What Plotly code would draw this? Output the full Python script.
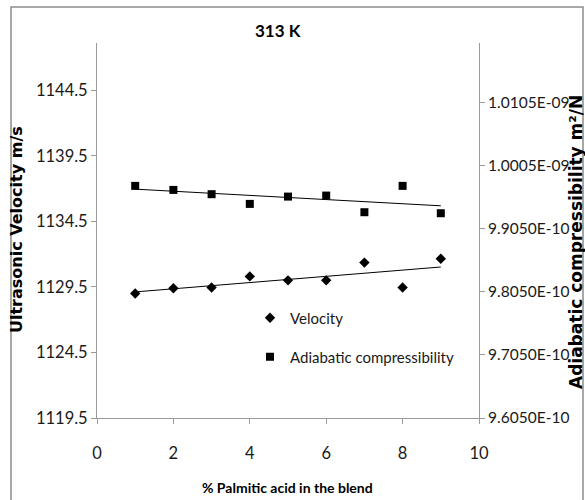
import numpy as np
import plotly.graph_objects as go

# % palmitic acid in the blend
palmitic_pct = [1, 2, 3, 4, 5, 6, 7, 8, 9]
# ultrasonic velocity, m/s (left axis)
velocity = [1129.0, 1129.4, 1129.45, 1130.3, 1130.0, 1130.0, 1131.35, 1129.45, 1131.65]
# adiabatic compressibility, m^2/N (right axis)
compressibility = [9.9733e-10, 9.9669e-10, 9.9601e-10, 9.9447e-10, 9.9563e-10,
                   9.9579e-10, 9.9315e-10, 9.9733e-10, 9.9299e-10]

left_ticks = [1119.5, 1124.5, 1129.5, 1134.5, 1139.5, 1144.5]
right_ticks = [9.605e-10, 9.705e-10, 9.805e-10, 9.905e-10, 1.0005e-09, 1.0105e-09]
right_tick_text = ["9.6050E-10", "9.7050E-10", "9.8050E-10", "9.9050E-10", "1.0005E-09", "1.0105E-09"]
x_ticks = [0, 2, 4, 6, 8, 10]

BODY = "Lato, Roboto, sans-serif"
TICK_FONT = dict(family=BODY, size=16.5, color="#1a1a1a")
RIGHT_TICK_FONT = dict(family=BODY, size=15.5, color="#1a1a1a")
TITLE_FONT = "DejaVu Sans, Verdana, sans-serif"
AXIS_GREY = "#9a9a9a"

x = np.array(palmitic_pct, dtype=float)
x_fit = np.array([x.min(), x.max()])
v_fit = np.polyval(np.polyfit(x, velocity, 1), x_fit)
c_fit = np.polyval(np.polyfit(x, compressibility, 1), x_fit)

fig = go.Figure()
fig.add_trace(go.Scatter(x=palmitic_pct, y=velocity, mode="markers", name="Velocity",
                         marker=dict(symbol="diamond", size=8, color="black"),
                         legend="legend"))
fig.add_trace(go.Scatter(x=x_fit, y=v_fit, mode="lines", showlegend=False,
                         line=dict(color="black", width=1)))
fig.add_trace(go.Scatter(x=palmitic_pct, y=compressibility, mode="markers",
                         name="Adiabatic compressibility", yaxis="y2",
                         marker=dict(symbol="square", size=8, color="black"),
                         legend="legend2"))
fig.add_trace(go.Scatter(x=x_fit, y=c_fit, mode="lines", showlegend=False, yaxis="y2",
                         line=dict(color="black", width=1)))

# plot area spans 97..479 px horizontally and 43..418 px vertically
L, R, T, B = 97, 479, 43, 418
W, H = 585, 500


def px(xp):
    return (xp - L) / (R - L)


def py(yp):
    return (B - yp) / (B - T)


legend_font = dict(family=BODY, size=15, color="#1a1a1a")

fig.update_layout(
    width=W, height=H,
    margin=dict(l=L, r=W - R, t=T, b=H - B, pad=0),
    paper_bgcolor="white", plot_bgcolor="white",
    font=TICK_FONT,
    xaxis=dict(range=[0, 10], tickvals=x_ticks, showgrid=False, zeroline=False,
               showline=True, linecolor=AXIS_GREY, linewidth=1,
               ticks="outside", ticklen=5, tickcolor=AXIS_GREY,
               ticklabelstandoff=15, tickfont=TICK_FONT),
    yaxis=dict(range=[1119.5, 1148.1], tickvals=left_ticks, ticktext=[f"{v:.1f}" for v in left_ticks],
               showgrid=False, zeroline=False, showline=True, linecolor=AXIS_GREY, linewidth=1,
               ticks="outside", ticklen=5, tickcolor=AXIS_GREY, tickfont=TICK_FONT),
    yaxis2=dict(range=[9.605e-10, 1.02e-09], tickvals=right_ticks, ticktext=right_tick_text,
                overlaying="y", side="right", showgrid=False, zeroline=False,
                showline=True, linecolor=AXIS_GREY, linewidth=1,
                ticks="outside", ticklen=5, tickcolor=AXIS_GREY, tickfont=RIGHT_TICK_FONT),
    legend=dict(x=px(250), y=py(318), xanchor="left", yanchor="middle",
                bgcolor="rgba(0,0,0,0)", font=legend_font, itemwidth=30),
    legend2=dict(x=px(250), y=py(357), xanchor="left", yanchor="middle",
                 bgcolor="rgba(0,0,0,0)", font=legend_font, itemwidth=30),
    shapes=[dict(type="rect", xref="paper", yref="paper",
                 x0=px(11), x1=px(583), y0=py(505), y1=py(7),
                 line=dict(color="#8c8c8c", width=1.5))],
    annotations=[
        dict(text="<b>313 K</b>", x=px(278), y=py(30), xref="paper", yref="paper",
             showarrow=False, xanchor="center", yanchor="middle",
             font=dict(family=BODY, size=17, color="black")),
        dict(text="<b>% Palmitic acid in the blend</b>", x=px(287), y=py(487),
             xref="paper", yref="paper", showarrow=False, xanchor="center", yanchor="middle",
             font=dict(family=BODY, size=14, color="black")),
        dict(text="<b>Ultrasonic Velocity m/s</b>", x=px(16), y=py(230), xref="paper", yref="paper",
             showarrow=False, textangle=-90, xanchor="center", yanchor="middle",
             font=dict(family=TITLE_FONT, size=16, color="black")),
        dict(text="<b>Adiabatic compressibility m\u00b2/N</b>", x=px(576), y=py(242),
             xref="paper", yref="paper", showarrow=False, textangle=-90,
             xanchor="center", yanchor="middle",
             font=dict(family=TITLE_FONT, size=17, color="black")),
    ],
)

fig.write_html("out.html")
